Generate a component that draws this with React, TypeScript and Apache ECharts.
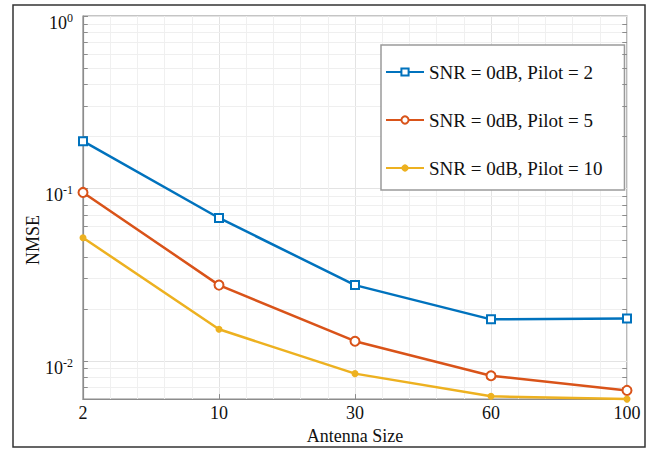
import React, { useEffect, useRef } from "react";
import * as echarts from "echarts";

const categories = ["2", "10", "30", "60", "100"];
const pilot2 = [0.188, 0.0674, 0.0275, 0.0174, 0.0176];
const pilot5 = [0.0948, 0.0275, 0.013, 0.0082, 0.00674];
const pilot10 = [0.0518, 0.01524, 0.00843, 0.00623, 0.006];
const minorY = [0.007, 0.008, 0.009, 0.02, 0.03, 0.04, 0.05, 0.06, 0.07, 0.08, 0.09, 0.2, 0.3, 0.4, 0.5, 0.6, 0.7, 0.8, 0.9];
const seriesNames = ["SNR = 0dB, Pilot = 2", "SNR = 0dB, Pilot = 5", "SNR = 0dB, Pilot = 10"];

const FONT = '"Liberation Serif", "Times New Roman", serif';

export default function App() {
  const ref = useRef<HTMLDivElement>(null);
  useEffect(() => {
    if (!ref.current) return;
    const chart = echarts.init(ref.current, null, { renderer: "svg" });
    const toPts = (arr: number[]) => arr.map((v, i) => [i, v]);
    const xMax = categories.length - 1;
    const minorGridLines = minorY.map((v) => [
      { coord: [0, v] },
      { coord: [xMax, v] },
    ]);
    const minorTicks: any[] = [];
    minorY.forEach((v) => {
      minorTicks.push([{ coord: [0, v] }, { coord: [0.035, v] }]);
      minorTicks.push([{ coord: [xMax - 0.035, v] }, { coord: [xMax, v] }]);
    });
    chart.setOption({
      animation: false,
      backgroundColor: "#ffffff",
      textStyle: { fontFamily: FONT },
      grid: {
        left: 83,
        right: 24,
        top: 16,
        bottom: 46,
        show: true,
        borderColor: "#8c8c8c",
        borderWidth: 1.2,
        backgroundColor: "transparent",
      },
      legend: {
        orient: "vertical",
        left: 381,
        top: 45,
        padding: [17, 22, 12, 4],
        itemGap: 28,
        itemWidth: 38,
        itemHeight: 9,
        backgroundColor: "#ffffff",
        borderColor: "#9a9a9a",
        borderWidth: 1.5,
        textStyle: { fontFamily: FONT, fontSize: 19, color: "#111", lineHeight: 20 },
        data: seriesNames,
      },
      xAxis: {
        type: "value",
        min: 0,
        max: xMax,
        interval: 1,
        name: "Antenna Size",
        nameLocation: "middle",
        nameGap: 23,
        nameTextStyle: { fontFamily: FONT, fontSize: 18, color: "#111" },
        axisLine: { show: true, onZero: false, lineStyle: { color: "#8c8c8c", width: 1.2 } },
        axisTick: { show: true, inside: true, length: 5, lineStyle: { color: "#8c8c8c" } },
        axisLabel: {
          fontFamily: FONT,
          fontSize: 18,
          color: "#111",
          margin: 5,
          formatter: (v: number) => categories[Math.round(v)] ?? "",
        },
        splitLine: { show: true, lineStyle: { color: "#e3e3e3", width: 1 } },
        minorTick: { show: false, splitNumber: 5 },
        minorSplitLine: { show: true, lineStyle: { color: "#f0f0f0", width: 1 } },
      },
      yAxis: {
        type: "log",
        logBase: 10,
        min: 0.006,
        max: 1,
        axisLine: { show: true, lineStyle: { color: "#8c8c8c", width: 1.2 } },
        axisTick: { show: true, inside: true, length: 5, lineStyle: { color: "#8c8c8c" } },
        axisLabel: {
          fontFamily: FONT,
          margin: 10,
          padding: [14, 0, 0, 0],
          formatter: (v: number) => {
            const e = Math.log10(v);
            if (Math.abs(e - Math.round(e)) < 1e-6) {
              return `{b|10}{s|${Math.round(e)}}`;
            }
            return "";
          },
          rich: {
            b: { fontFamily: FONT, fontSize: 18, color: "#111", lineHeight: 22 },
            s: { fontFamily: FONT, fontSize: 12, color: "#111", lineHeight: 10, verticalAlign: "top" },
          },
        },
        splitLine: { show: true, lineStyle: { color: "#e3e3e3", width: 1 } },
      },
      graphic: [
        {
          type: "rect",
          shape: { x: 13, y: 5, width: 632, height: 442 },
          style: { fill: "none", stroke: "#333", lineWidth: 1.5 },
          silent: true,
          z: 100,
        },
        {
          type: "text",
          x: 33,
          y: 240,
          rotation: Math.PI / 2,
          style: {
            text: "NMSE",
            fontFamily: FONT,
            fontSize: 18,
            fill: "#111",
            align: "center",
            verticalAlign: "middle",
          },
        },
      ],
      series: [
        {
          name: "grid-minor",
          type: "line",
          data: [],
          silent: true,
          markLine: {
            silent: true,
            symbol: ["none", "none"],
            label: { show: false },
            lineStyle: { color: "#efefef", width: 1, type: "solid" },
            data: minorGridLines,
            z: 0,
          },
          z: 0,
        },
        {
          name: "grid-ticks",
          type: "line",
          data: [],
          silent: true,
          markLine: {
            silent: true,
            symbol: ["none", "none"],
            label: { show: false },
            lineStyle: { color: "#8c8c8c", width: 1, type: "solid" },
            data: minorTicks,
          },
        },
        {
          name: seriesNames[0],
          type: "line",
          data: toPts(pilot2),
          clip: false,
          symbol: "emptyRect",
          symbolSize: 8,
          color: "#0072BD",
          lineStyle: { width: 2.5, color: "#0072BD" },
          itemStyle: { color: "#0072BD", borderWidth: 2 },
          z: 5,
        },
        {
          name: seriesNames[1],
          type: "line",
          data: toPts(pilot5),
          clip: false,
          symbol: "emptyCircle",
          symbolSize: 9,
          color: "#D95319",
          lineStyle: { width: 2.5, color: "#D95319" },
          itemStyle: { color: "#D95319", borderWidth: 2 },
          z: 5,
        },
        {
          name: seriesNames[2],
          type: "line",
          data: toPts(pilot10),
          clip: false,
          symbol: "circle",
          symbolSize: 7,
          color: "#EDB120",
          lineStyle: { width: 2.5, color: "#EDB120" },
          itemStyle: { color: "#EDB120" },
          z: 5,
        },
      ],
    });
    return () => chart.dispose();
  }, []);
  return (
    <div
      ref={ref}
      style={{ position: "absolute", left: 0, top: 0, width: 651, height: 450 }}
    />
  );
}
